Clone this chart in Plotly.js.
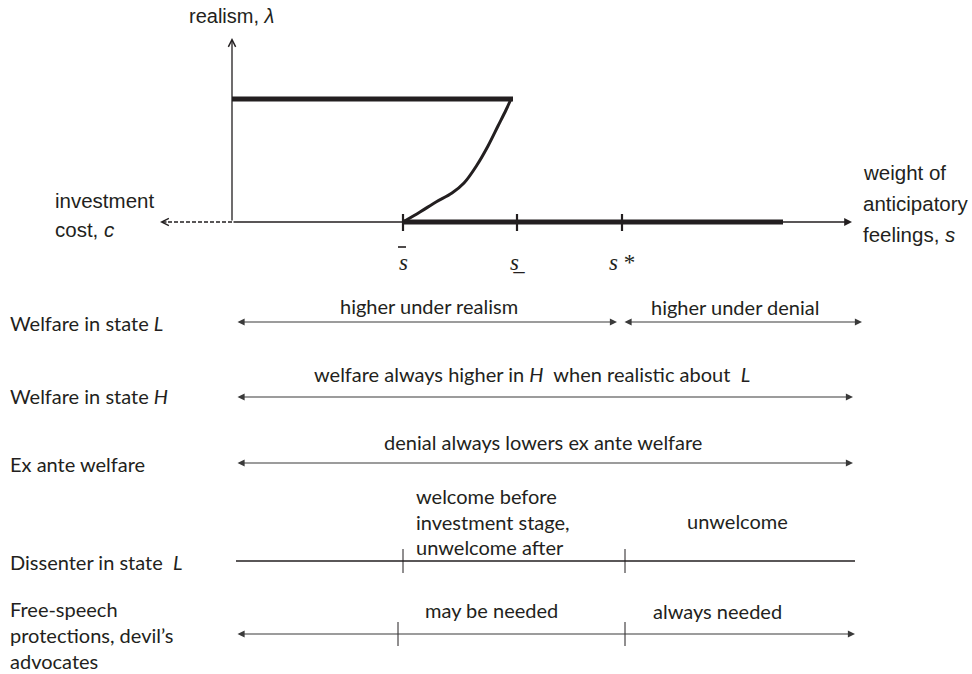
<!DOCTYPE html>
<html><head><meta charset="utf-8">
<script src="https://cdn.plot.ly/plotly-3.0.1.min.js"></script>
<style>html,body{margin:0;padding:0;background:#fff;overflow:hidden}</style>
</head><body><div id="chart" style="width:972px;height:674px"></div>
<script>
// ---------- upper diagram: realism (lambda) vs weight of anticipatory feelings (s) ----------
const sOrigin = 232;          // origin of s axis
const sAxisEnd = 852;         // arrow tip of s axis
const costEnd = 160;          // dashed investment-cost arrow tip
const sTicks = [403, 517, 622];
const sTickLabels = ['<i>s</i>', '<i>s</i>\u0332', '<i>s</i> *'];
const sDenialEnd = 783;       // thick segment (denial) on the s axis
const lamZero = 222, lamOne = 99, lamAxisTop = 38;
const realismS = [232, 513];  // full realism segment
const curveS   = [403, 420, 436, 452, 464, 477, 488, 498, 506, 511];
const curveLam = [222, 212, 202, 193, 183, 165, 146, 126, 110, 99];

// ---------- lower panel rows ----------
const rowNames = [['Welfare in state <i>L</i>'], ['Welfare in state <i>H</i>'], ['Ex ante welfare'],
                  ['Dissenter in state  <i>L</i>'], ['Free-speech', 'protections, devil\u2019s', 'advocates']];
const rowY = [322, 397, 463, 561, 634];
const rowSegments = [[[236, 617], [623, 862]], [[236, 853]], [[236, 853]], [[236, 855]], [[236, 855]]];
const rowHasArrows = [true, true, true, false, true];
const rowTicks = [[], [], [], [403, 625], [398, 625]];
const rowNotes = [
  [['higher under realism', 429, 306], ['higher under denial', 735, 307]],
  [['welfare always higher in <i>H</i>  when realistic about  <i>L</i>', 532, 374]],
  [['denial always lowers ex ante welfare', 543, 442]],
  [['unwelcome', 737, 521]],
  [['may be needed', 491, 610], ['always needed', 717, 611]]
];

const ink = '#231f20', grey = '#3a3a3a';
const traces = [];
const annotations = [];
function seg(xs, ys, w, color, dash) {
  traces.push({x: xs, y: ys, mode: 'lines', type: 'scatter', hoverinfo: 'skip', showlegend: false,
    line: {color: color, width: w, dash: dash || 'solid', shape: 'linear'}});
}
function arrow(x0, y0, x1, y1, head, size, width, color, both) {
  annotations.push({x: x1, y: y1, ax: x0, ay: y0, xref: 'x', yref: 'y', axref: 'x', ayref: 'y',
    text: '', showarrow: true, arrowhead: head, arrowsize: size, arrowwidth: width, arrowcolor: color,
    standoff: 0, startstandoff: 0, arrowside: both ? 'end+start' : 'end',
    startarrowhead: head, startarrowsize: size});
}
function label(text, x, y, size, family, xanchor, color) {
  annotations.push({x: x, y: y, xref: 'x', yref: 'y', text: text, showarrow: false,
    xanchor: xanchor || 'center', yanchor: 'middle', align: 'left',
    font: {size: size, family: family, color: color || ink}});
}
function lines(arr, x, y0, step, size, family) {
  arr.forEach((t, k) => label(t, x, y0 + k * step, size, family, 'left'));
}

// axes
arrow(sOrigin, lamZero, sOrigin, lamAxisTop, 5, 1.1, 1.3, ink, false);
arrow(sOrigin, lamZero, sAxisEnd, lamZero, 2, 1.2, 1.3, ink, false);
seg([sOrigin, costEnd + 6], [lamZero, lamZero], 1.3, ink, '4px,2px');
arrow(costEnd + 8, lamZero, costEnd, lamZero, 5, 1.1, 1.3, ink, false);
// realism & denial branches
seg(realismS, [lamOne, lamOne], 5, ink);
seg([sTicks[0], sDenialEnd], [lamZero, lamZero], 5, ink);
traces.push({x: curveS, y: curveLam, mode: 'lines', type: 'scatter', hoverinfo: 'skip', showlegend: false,
  line: {color: ink, width: 3, shape: 'spline', smoothing: 1}});
const serif = 'Liberation Serif, Times New Roman, serif';
sTicks.forEach((s, i) => {
  seg([s, s], [lamZero - 8, lamZero + 9], 2.2, ink);
  label(sTickLabels[i], s, i === 2 ? 262 : 262, 23, serif, 'center', ink);
});
seg([sTicks[0] - 5, sTicks[0] + 3], [247, 247], 1.6, ink);   // bar of s-bar
const sansTop = 'Liberation Sans, Arial, sans-serif';
label('realism, <i>\u03bb</i>', 187, 16, 20, sansTop, 'left');
lines(['investment', 'cost, <i>c</i>'], 53, 200, 29, 20.5, sansTop);
lines(['weight of', 'anticipatory', 'feelings, <i>s</i>'], 861, 172, 31, 20.5, sansTop);

// lower rows
const sansLow = 'Lato, Open Sans, sans-serif';
const fs = 20;
rowNames.forEach((name, i) => {
  const ly0 = i === 4 ? 609 : (i === 1 ? 396 : rowY[i] + 1);
  lines(name, 8, ly0, 26, fs, sansLow);
  rowSegments[i].forEach(([a, b]) => {
    if (rowHasArrows[i]) arrow(a, rowY[i], b, rowY[i], 2, 1.3, 1.1, grey, true);
    else seg([a, b], [rowY[i], rowY[i]], 1.3, ink);
  });
  rowTicks[i].forEach(t => seg([t, t], [rowY[i] - 12, rowY[i] + 12], 1, ink));
  rowNotes[i].forEach(([t, x, y]) => label(t, x, y, fs, sansLow, 'center', ink));
});
lines(['welcome before', 'investment stage,', 'unwelcome after'], 414, 496, 25.5, fs, sansLow);

const layout = {
  width: 972, height: 674, margin: {l: 0, r: 0, t: 0, b: 0},
  paper_bgcolor: '#fff', plot_bgcolor: '#fff',
  xaxis: {range: [0, 972], visible: false, fixedrange: true},
  yaxis: {range: [674, 0], visible: false, fixedrange: true},
  annotations: annotations, showlegend: false
};
Plotly.newPlot('chart', traces, layout, {staticPlot: true, displayModeBar: false});
</script></body></html>
